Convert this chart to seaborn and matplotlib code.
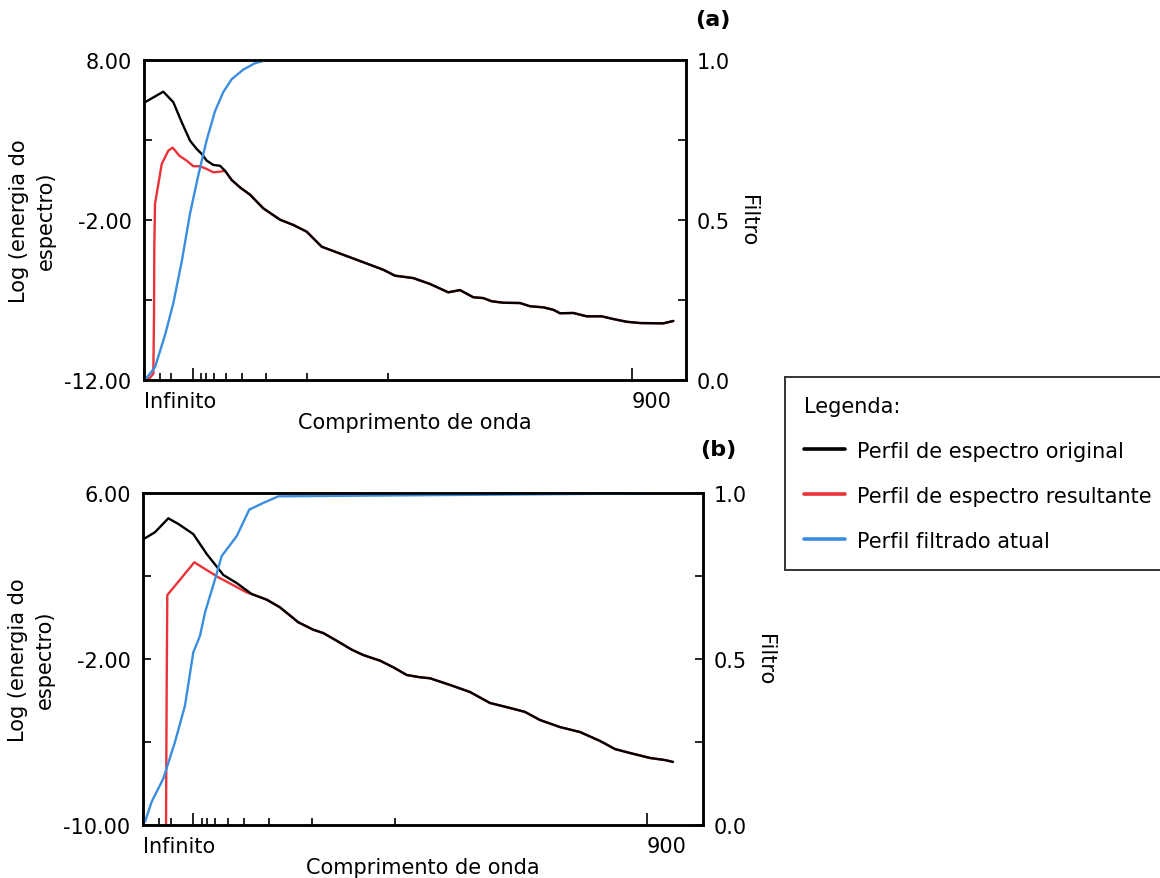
import matplotlib
matplotlib.use("Agg")
import matplotlib.pyplot as plt
from matplotlib.lines import Line2D
import seaborn as sns

sns.set_style("white")
plt.rcParams['font.family'] = ['DejaVu Sans']
plt.rcParams['text.color'] = 'black'
plt.rcParams['axes.labelcolor'] = 'black'
plt.rcParams['xtick.color'] = 'black'
plt.rcParams['ytick.color'] = 'black'

# ---- panel (a) ----
a_orig_x = [0.18, 3.56, 5.41, 6.96, 8.49, 9.72, 10.65, 11.57, 12.79, 14.02, 14.94, 16.18,
            17.71, 19.56, 22.01, 25.09, 27.55, 30.02, 32.79, 35.55, 40.46, 44.15, 46.31,
            49.69, 52.77, 56.14, 58.30, 60.76, 62.60, 64.15, 66.29, 69.37, 71.22, 73.67,
            75.52, 76.75, 79.21, 81.68, 84.45, 86.59, 89.06, 91.51, 95.81, 97.66]
a_orig_y = [5.36, 6.02, 5.36, 4.11, 2.96, 2.44, 2.13, 1.71, 1.44, 1.39, 1.08, 0.50,
            0.04, -0.42, -1.27, -1.98, -2.31, -2.73, -3.67, -4.02, -4.64, -5.11, -5.48,
            -5.63, -6.00, -6.52, -6.38, -6.83, -6.88, -7.08, -7.17, -7.19, -7.39, -7.46,
            -7.61, -7.83, -7.81, -8.02, -8.02, -8.19, -8.36, -8.44, -8.46, -8.31]
a_res_x = [0.18, 1.0, 1.72, 1.85, 1.90, 2.03, 3.27, 4.48, 5.30, 6.51, 7.88, 9.10,
           10.33, 11.57, 12.79, 14.02]
a_res_y = [-12.0, -11.9, -11.6, -7.98, -3.81, -1.0, 1.5, 2.33, 2.52, 2.02, 1.71, 1.36,
           1.36, 1.19, 0.98, 1.02]
a_filt_x = [0.18, 2.03, 3.87, 5.41, 6.96, 8.49, 10.02, 11.57, 13.10, 14.63, 16.18,
            18.32, 20.48, 22.64, 100.0]
a_filt_y = [0.0, 0.04, 0.14, 0.24, 0.37, 0.52, 0.64, 0.75, 0.84, 0.90, 0.94, 0.97,
            0.99, 1.0, 1.0]

# ---- panel (b) ----
b_orig_x = [0.36, 2.14, 4.52, 6.30, 8.98, 11.38, 14.34, 16.73, 19.41, 22.09, 24.46,
            27.73, 30.41, 32.20, 34.59, 37.27, 39.34, 42.32, 44.70, 47.09, 49.46, 51.25,
            54.82, 58.39, 61.96, 65.54, 68.21, 70.89, 74.46, 78.04, 81.61, 84.29, 86.96,
            90.54, 93.21, 94.64]
b_orig_y = [3.82, 4.11, 4.78, 4.51, 4.02, 3.06, 2.05, 1.66, 1.13, 0.86, 0.49, -0.23,
            -0.59, -0.75, -1.12, -1.55, -1.81, -2.08, -2.40, -2.77, -2.88, -2.93, -3.25,
            -3.59, -4.12, -4.36, -4.55, -4.94, -5.28, -5.52, -5.95, -6.34, -6.53, -6.77,
            -6.87, -6.96]
b_res_x = [4.11, 4.23, 4.34, 9.16, 13.45, 18.51]
b_res_y = [-10.0, -3.3, 1.08, 2.66, 1.94, 1.21]
b_filt_x = [0.36, 1.55, 3.63, 5.71, 7.5, 8.98, 10.18, 11.07, 12.86, 14.05, 16.73,
            18.98, 21.48, 24.16, 100.0]
b_filt_y = [0.01, 0.07, 0.14, 0.25, 0.36, 0.52, 0.57, 0.64, 0.74, 0.81, 0.87, 0.95,
            0.97, 0.99, 1.0]

# axis ticks (wavelength marks placed on the frequency axis)
x_major = [0, 9.0, 90.0]
x_major_labels = ['Infinito', '', '900']
x_minor = [2.9, 5.0, 10.5, 11.4, 12.9, 15.1, 18.1, 22.5, 30.1, 45.0]

BLACK = '#000000'
RED = '#ea3238'
BLUE = '#3a8ddf'
FS = 15


def merged_result(res_x, res_y, orig_x, orig_y):
    """Resulting profile: its own start, then following the original profile."""
    last = res_x[-1]
    tail = [(x, y) for x, y in zip(orig_x, orig_y) if x > last]
    xs = list(res_x) + [t[0] for t in tail]
    ys = list(res_y) + [t[1] for t in tail]
    return xs, ys


def draw_panel(ax, ox, oy, rx, ry, fx, fy, ylim, yticks, yminor):
    rxx, ryy = merged_result(rx, ry, ox, oy)
    sns.lineplot(x=rxx, y=ryy, ax=ax, color=RED, lw=1.7, sort=False, estimator=None)
    sns.lineplot(x=ox, y=oy, ax=ax, color=BLACK, lw=1.7, sort=False, estimator=None)
    ax.set_xlim(0, 100)
    ax.set_ylim(*ylim)
    ax.set_yticks(yticks)
    ax.set_yticklabels([f"{v:.2f}" for v in yticks])
    ax.set_yticks(yminor, minor=True)
    ax.set_xticks(x_major)
    ax.set_xticklabels(x_major_labels)
    for lbl in ax.get_xticklabels():
        lbl.set_horizontalalignment('left')
    ax.set_xticks(x_minor, minor=True)
    ax.tick_params(axis='y', which='both', direction='in', length=6, width=1.2,
                   labelsize=FS, pad=9, left=True)
    ax.tick_params(axis='x', which='major', direction='in', length=9, width=1.2,
                   labelsize=FS, pad=8, bottom=True)
    ax.tick_params(axis='x', which='minor', direction='in', length=5, width=1.2,
                   bottom=True)
    ax.set_xlabel('Comprimento de onda', fontsize=FS, labelpad=1)
    ax.set_ylabel('Log (energia do\nespectro)', fontsize=FS, labelpad=6,
                  linespacing=1.45)

    ax2 = ax.twinx()
    sns.lineplot(x=fx, y=fy, ax=ax2, color=BLUE, lw=1.7, sort=False, estimator=None)
    ax2.set_ylim(0, 1)
    ax2.set_xlim(0, 100)
    ax2.set_yticks([0, 0.5, 1.0])
    ax2.set_yticklabels(['0.0', '0.5', '1.0'])
    ax2.set_yticks([0.25, 0.75], minor=True)
    ax2.tick_params(axis='y', which='both', direction='in', length=6, width=1.2,
                    labelsize=FS, pad=8, right=True)
    ax2.set_ylabel('Filtro', fontsize=FS, rotation=270, labelpad=20)
    for a in (ax, ax2):
        for s in a.spines.values():
            s.set_linewidth(1.8)
            s.set_color('black')
            s.set_visible(True)
    return ax2


fig = plt.figure(figsize=(11.6, 8.79), dpi=100)
ax_a = fig.add_axes([144 / 1160, 1 - 381 / 879, 542 / 1160, 320 / 879])
ax_b = fig.add_axes([143 / 1160, 1 - 826 / 879, 560 / 1160, 332 / 879])

draw_panel(ax_a, a_orig_x, a_orig_y, a_res_x, a_res_y, a_filt_x, a_filt_y,
           (-12, 8), [-12, -2, 8], [-7, 3])
draw_panel(ax_b, b_orig_x, b_orig_y, b_res_x, b_res_y, b_filt_x, b_filt_y,
           (-10, 6), [-10, -2, 6], [-6, 2])

fig.text(713 / 1160, 1 - 20 / 879, '(a)', fontsize=16, fontweight='bold',
         ha='center', va='center')
fig.text(718 / 1160, 1 - 450 / 879, '(b)', fontsize=16, fontweight='bold',
         ha='center', va='center')

handles = [Line2D([], [], color=BLACK, lw=2.6),
           Line2D([], [], color=RED, lw=2.6),
           Line2D([], [], color=BLUE, lw=2.6)]
labels = ['Perfil de espectro original', 'Perfil de espectro resultante',
          'Perfil filtrado atual']
leg = fig.legend(handles, labels, title='Legenda:', loc='upper left',
                 bbox_to_anchor=(785 / 1160, 1 - 378 / 879), fontsize=FS,
                 title_fontsize=FS, frameon=True, fancybox=False,
                 handlelength=2.0, handletextpad=0.55, labelspacing=1.2,
                 borderpad=0.9, borderaxespad=0, alignment='left')
leg.get_frame().set_edgecolor('black')
leg.get_frame().set_linewidth(1.4)

fig.savefig('out.png', dpi=100)
